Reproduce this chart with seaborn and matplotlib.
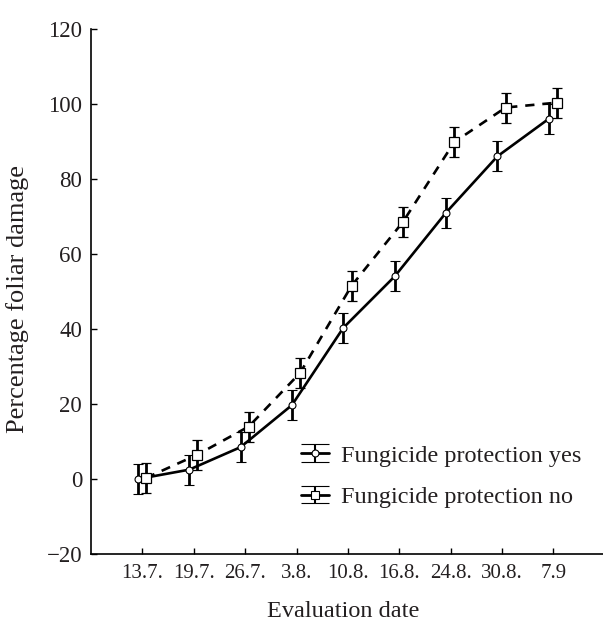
import numpy as np
import pandas as pd
import seaborn as sns
import matplotlib
matplotlib.use("Agg")
import matplotlib.pyplot as plt
from matplotlib.legend_handler import HandlerErrorbar

# dados
dates = ["13.7.", "19.7.", "26.7.", "3.8.", "10.8.", "16.8.", "24.8.", "30.8.", "7.9"]
damage_yes = [0, 2.5, 8.5, 19.7, 40.3, 54, 71, 86, 96]
damage_no = [0.3, 6.5, 14, 28.3, 51.5, 68.5, 89.8, 99, 100.3]
err_yes = [4, 4, 4, 4, 4, 4, 4, 4, 4]
err_no = [4, 4, 4, 4, 4, 4, 4, 4, 4]

sns.set_theme(style="ticks")
plt.rcParams["font.family"] = ["Liberation Serif", "DejaVu Serif"]
txt = "#231f20"

fig = plt.figure(figsize=(6.03, 6.24), dpi=100)
ax = fig.add_axes([0.151, 0.112, 0.852, 0.842])

pos = np.arange(len(dates))
df = pd.DataFrame({
    "pos": np.concatenate([pos - 0.09, pos + 0.07]),
    "damage": damage_yes + damage_no,
    "group": ["yes"] * len(dates) + ["no"] * len(dates),
})

# linhas
sns.lineplot(data=df[df.group == "yes"], x="pos", y="damage", color="black",
             linewidth=1.9, ax=ax, legend=False)
sns.lineplot(data=df[df.group == "no"], x="pos", y="damage", color="black",
             linewidth=1.9, linestyle=(0, (3.5, 3)), ax=ax, legend=False)

# barras de erro + marcadores
ax.errorbar(pos - 0.09, damage_yes, yerr=err_yes, fmt="o", color="black",
            mfc="white", mec="black", ms=5, mew=0.8, elinewidth=2,
            capsize=3.5, capthick=2)
ax.errorbar(pos + 0.07, damage_no, yerr=err_no, fmt="s", color="black",
            mfc="white", mec="black", ms=7, mew=0.9, elinewidth=2,
            capsize=3.5, capthick=2)

# proxies so para a legenda (caps largos como no original)
p1 = ax.errorbar([np.nan], [np.nan], yerr=[1], fmt="o-", color="black", lw=2,
                 mfc="white", mec="black", ms=5, mew=0.8, elinewidth=1.5,
                 capsize=10, capthick=2.2)
p2 = ax.errorbar([np.nan], [np.nan], yerr=[1], fmt="s-", color="black", lw=2,
                 mfc="white", mec="black", ms=6, mew=0.8, elinewidth=1.5,
                 capsize=10, capthick=2.2)
ax.legend([p1, p2], ["Fungicide protection yes", "Fungicide protection no"],
          loc="center left", bbox_to_anchor=(0.409, 0.148), frameon=False,
          fontsize=17.5, handlelength=1.15, handletextpad=0.5, labelspacing=0.8,
          borderpad=0, borderaxespad=0, labelcolor=txt,
          handler_map={type(p1): HandlerErrorbar(yerr_size=0.36)})

ax.set_xlim(-1, 9)
ax.set_ylim(-20, 120)
ax.set_yticks(range(-20, 121, 20))
ax.set_yticklabels(["\u221220", "0", "20", "40", "60", "80", "100", "120"])
ax.set_xticks(pos)
ax.set_xticklabels(dates)
ax.tick_params(length=4.5, width=1, direction="in", color="black", labelcolor=txt)
ax.tick_params(axis="y", pad=6.5, labelsize=16.5)
ax.tick_params(axis="x", pad=7, labelsize=15)
for s in ["top", "right"]:
    ax.spines[s].set_visible(False)
for s in ["left", "bottom"]:
    ax.spines[s].set_color("black")
    ax.spines[s].set_linewidth(1.2)

ax.set_xlabel("Evaluation date", fontsize=17.5, color=txt, va="center")
ax.xaxis.set_label_coords(0.49, -0.11)
ax.set_ylabel("Percentage foliar damage", fontsize=19, color=txt, va="center")
ax.yaxis.set_label_coords(-0.144, 0.485)

fig.savefig("out.png", dpi=100)
